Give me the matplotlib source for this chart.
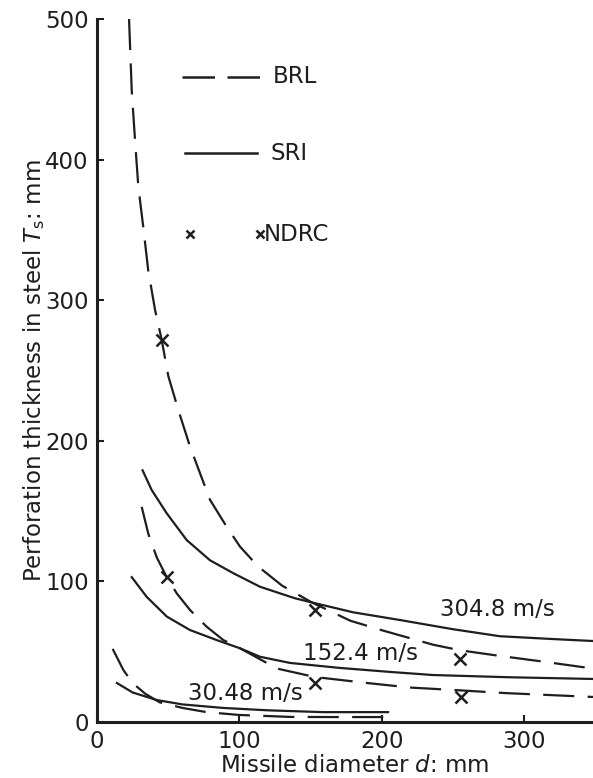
import matplotlib
matplotlib.use('Agg')
import matplotlib.pyplot as plt

# curves (missile diameter mm, thickness mm)
brl_304_x = [22.5, 24.4, 26.7, 29, 32.5, 36, 40.8, 45.4, 50.1, 57.1, 65.3, 79.4, 91, 100.5, 113.3,
             130, 151, 178, 201, 236, 255, 283, 313, 348.5]
brl_304_y = [500, 449, 414, 381, 352, 321, 293, 272, 246, 222, 196, 158, 139, 124.7, 110.5,
             97, 85, 72, 65, 55, 51, 47, 43, 38]
sri_304_x = [32, 38.4, 49, 63, 79.4, 95.8, 114.5, 139, 151, 180, 213, 250, 283, 320, 348.5]
sri_304_y = [179, 165, 148.4, 129.4, 115, 105.8, 96.2, 88, 85, 78, 72.5, 66, 61, 59, 57.6]

brl_152_x = [31.4, 36, 42, 49, 56, 65.3, 77, 88.7, 100.5, 126.5, 153, 190, 220, 255, 288, 348.5]
brl_152_y = [153, 134, 117, 103, 91.5, 79.7, 67.8, 58.3, 52.4, 38, 32, 27.7, 24.5, 22.5, 20.5, 17.8]
sri_152_x = [24.4, 34.9, 49, 65.3, 84, 100.5, 114.5, 135.6, 170, 206, 236, 290, 348.5]
sri_152_y = [103, 89, 75, 65.4, 58.3, 52.4, 46.4, 42, 38.5, 35.6, 33.4, 31.8, 30.6]

brl_30_x = [11, 18.5, 25, 34, 44, 60, 77, 100, 136, 170, 206]
brl_30_y = [52, 37, 27.7, 20, 14, 10, 7, 5, 3.6, 3.5, 3.5]
sri_30_x = [14, 25, 42, 60, 88.5, 120, 159, 204.5]
sri_30_y = [27.7, 21, 15.6, 12.5, 10, 8.3, 7, 7]

ndrc_x = [45.4, 49, 153, 153, 255, 256]
ndrc_y = [272, 103, 80, 28, 45, 18]

speed_labels = ['304.8 m/s', '152.4 m/s', '30.48 m/s']
speed_label_x = [281, 185, 104]
speed_label_y = [80, 49, 20.6]

ink = '#1e1e1e'
dash = (0, (14, 6))
fs = 16.5

fig = plt.figure(figsize=(5.93, 7.78), dpi=100)
ax = fig.add_axes([0.1636, 0.072, 0.8364, 0.9036])

for x, y in [(brl_304_x, brl_304_y), (brl_152_x, brl_152_y), (brl_30_x, brl_30_y)]:
    ax.plot(x, y, color=ink, lw=1.6, ls=dash)
for x, y in [(sri_304_x, sri_304_y), (sri_152_x, sri_152_y), (sri_30_x, sri_30_y)]:
    ax.plot(x, y, color=ink, lw=1.6)
ax.plot(ndrc_x, ndrc_y, ls='none', marker='x', ms=8, mew=1.8, color=ink)

for lab, x, y in zip(speed_labels, speed_label_x, speed_label_y):
    ax.text(x, y, lab, fontsize=fs, color=ink, ha='center', va='center')

# hand-drawn legend
ax.plot([0.171, 0.335], [0.9175, 0.9175], transform=ax.transAxes, color=ink, lw=1.8, ls=(0, (13, 5)))
ax.text(0.355, 0.9175, 'BRL', transform=ax.transAxes, fontsize=fs, color=ink, va='center')
ax.plot([0.177, 0.323], [0.809, 0.809], transform=ax.transAxes, color=ink, lw=1.8)
ax.text(0.349, 0.809, 'SRI', transform=ax.transAxes, fontsize=fs, color=ink, va='center')
ax.plot([0.1875, 0.3286], [0.694, 0.694], transform=ax.transAxes, ls='none', marker='x',
        ms=6, mew=1.8, color=ink)
ax.text(0.336, 0.694, 'NDRC', transform=ax.transAxes, fontsize=fs, color=ink, va='center')

ax.set_xlim(0, 348.5)
ax.set_ylim(0, 500)
ax.set_xticks([0, 100, 200, 300])
ax.set_yticks([0, 100, 200, 300, 400, 500])
ax.spines['top'].set_visible(False)
ax.spines['right'].set_visible(False)
for s in ['left', 'bottom']:
    ax.spines[s].set_linewidth(2.2)
    ax.spines[s].set_color(ink)
ax.tick_params(direction='in', length=5, width=1.5, labelsize=fs, colors=ink, pad=6)

ax.set_xlabel(r'Missile diameter $\mathit{d}$: mm', fontsize=fs, color=ink)
ax.set_ylabel(r'Perforation thickness in steel $\mathit{T}_{\mathrm{s}}$: mm', fontsize=fs, color=ink)
ax.xaxis.set_label_coords(0.52, -0.045)
ax.yaxis.set_label_coords(-0.1, 0.5)

plt.savefig('out.png', dpi=100)
plt.close()
